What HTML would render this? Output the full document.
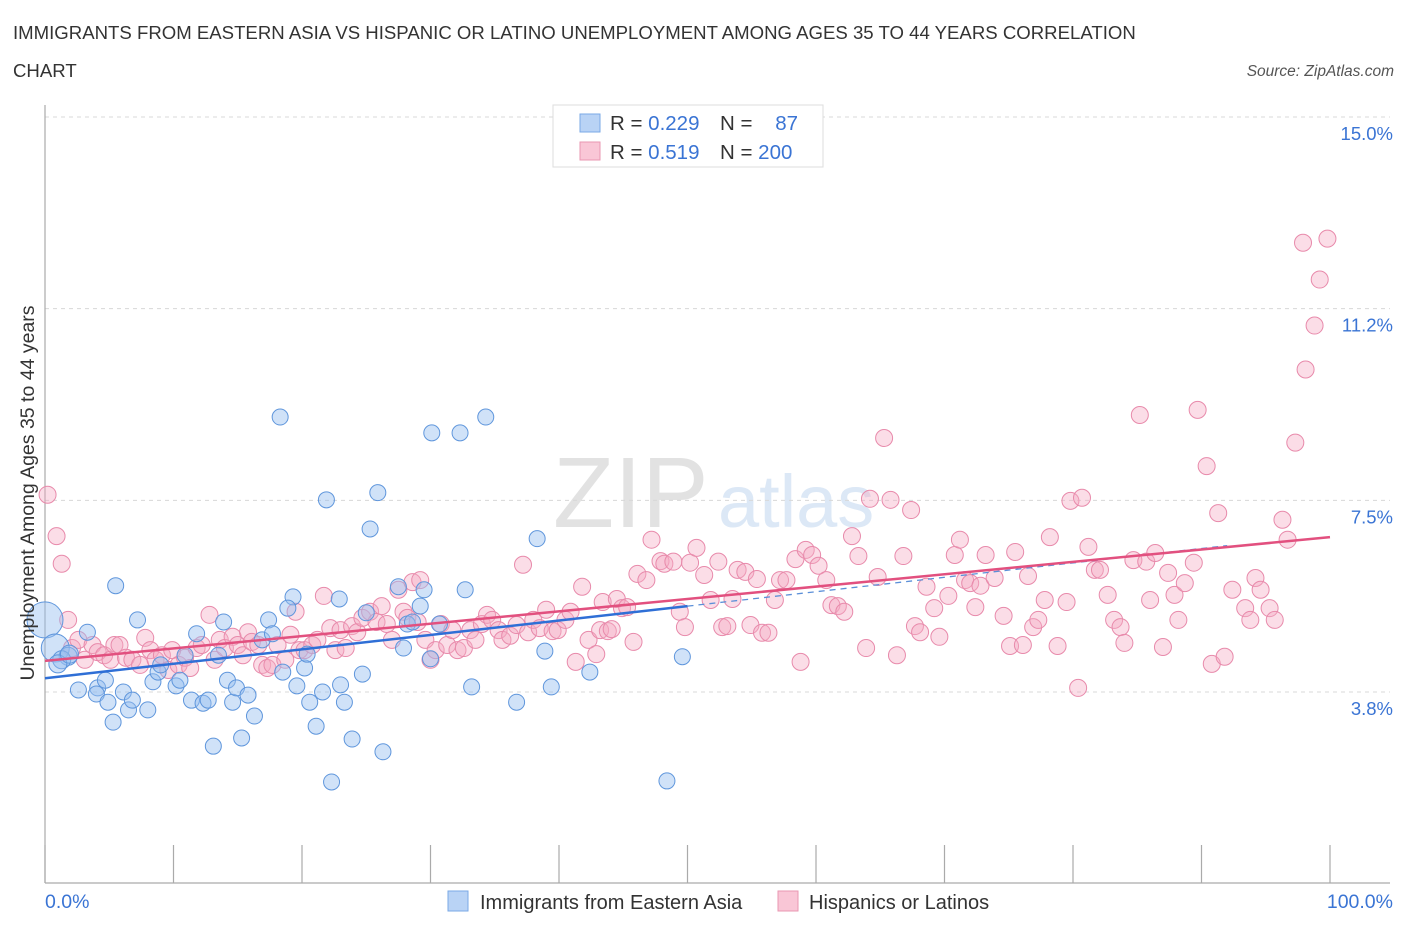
<!DOCTYPE html>
<html><head><meta charset="utf-8">
<style>
body{margin:0;background:#fff;font-family:"Liberation Sans",sans-serif;}
svg text{font-family:"Liberation Sans",sans-serif;}
</style></head>
<body>
<svg id="chart" width="1406" height="930" viewBox="0 0 1406 930" xmlns="http://www.w3.org/2000/svg">
<text x="13" y="39" font-size="18.6" fill="#333">IMMIGRANTS FROM EASTERN ASIA VS HISPANIC OR LATINO UNEMPLOYMENT AMONG AGES 35 TO 44 YEARS CORRELATION</text>
<text x="13" y="77" font-size="18.6" fill="#333">CHART</text>
<text x="1394" y="76" font-size="15.5" fill="#555" font-style="italic" text-anchor="end">Source: ZipAtlas.com</text>
<g>
<text x="553" y="527" font-size="100" fill="#e2e2e2" font-family="Liberation Serif, serif">ZIP</text>
<text x="718" y="527" font-size="74" fill="#dce8f6">atlas</text>
</g>
<g id="grid"></g>
<g id="axes"></g>
<g id="pts"></g>
<g id="trend"></g>
<text transform="translate(34,493) rotate(-90)" font-size="19.5" fill="#333" text-anchor="middle">Unemployment Among Ages 35 to 44 years</text>
<g>
<rect x="553" y="105" width="270" height="62" fill="#fff" stroke="#ddd"/>
<rect x="580" y="114" width="20" height="18" fill="#b9d3f5" stroke="#7aa8e6"/>
<rect x="580" y="142" width="20" height="18" fill="#f9c6d6" stroke="#e997b2"/>
<text x="610" y="130" font-size="20.5" fill="#333">R = <tspan fill="#3a74d4">0.229</tspan></text>
<text x="720" y="130" font-size="20.5" fill="#333">N =</text>
<text x="798" y="130" font-size="20.5" fill="#3a74d4" text-anchor="end">87</text>
<text x="610" y="159" font-size="20.5" fill="#333">R = <tspan fill="#3a74d4"> 0.519</tspan></text>
<text x="720" y="159" font-size="20.5" fill="#333">N = <tspan fill="#3a74d4">200</tspan></text>
</g>
<g>
<rect x="448" y="891" width="20" height="20" fill="#b9d3f5" stroke="#7aa8e6"/>
<text x="480" y="909" font-size="20" fill="#333">Immigrants from Eastern Asia</text>
<rect x="778" y="891" width="20" height="20" fill="#f9c6d6" stroke="#e997b2"/>
<text x="809" y="909" font-size="20" fill="#333">Hispanics or Latinos</text>
</g>
</svg>
<script>
const yTicks=[3.75,7.5,11.25,15];
const yTickLabels=["3.8%","7.5%","11.2%","15.0%"];
const xTickCount=10;
const xLabels=["0.0%","100.0%"];
const blueX=[0,0.8,1.8,1.3,1.0,1.9,3.3,2.6,4.1,4.7,5.5,4.0,4.9,5.3,6.1,6.5,6.8,7.2,8.0,8.4,8.8,9.0,10.2,10.5,10.9,11.4,11.8,12.3,12.7,13.1,13.5,13.9,14.2,14.6,14.9,15.3,15.8,16.3,16.9,17.4,17.7,18.3,18.5,19.3,18.9,19.6,20.2,20.4,20.6,21.1,21.6,21.9,22.3,22.9,23.0,23.3,23.9,24.7,25.0,25.3,25.9,26.3,27.5,27.9,28.2,28.6,29.2,29.5,30.0,30.1,30.7,32.3,32.7,33.2,34.3,36.7,38.3,38.9,39.4,42.4,48.4,49.6];
const blueY=[5.16,4.61,4.45,4.38,4.30,4.49,4.92,3.79,3.83,3.98,5.83,3.71,3.55,3.16,3.75,3.40,3.59,5.16,3.40,3.95,4.14,4.28,3.87,3.98,4.47,3.59,4.89,3.53,3.59,2.69,4.47,5.12,3.98,3.55,3.83,2.85,3.69,3.28,4.77,5.16,4.89,9.13,4.14,5.61,5.39,3.87,4.22,4.49,3.55,3.08,3.75,7.51,1.99,5.57,3.89,3.55,2.83,4.10,5.30,6.94,7.65,2.58,5.81,4.61,5.08,5.12,5.43,5.75,4.40,8.82,5.08,8.82,5.75,3.85,9.13,3.55,6.75,4.55,3.85,4.14,2.01,4.44];
const blueSize=[18,14,9,9,9,9,8,8,8,8,8,8,8,8,8,8,8,8,8,8,8,8,8,8,8,8,8,8,8,8,8,8,8,8,8,8,8,8,8,8,8,8,8,8,8,8,8,8,8,8,8,8,8,8,8,8,8,8,8,8,8,8,8,8,8,8,8,8,8,8,8,8,8,8,8,8,8,8,8,8,8,8];
const pinkX=[0.2,0.9,1.3,1.8,2.1,2.6,3.1,3.7,4.1,4.6,5.1,5.4,5.8,6.3,6.8,7.4,7.8,8.2,8.6,9.1,9.6,9.9,10.4,10.9,11.3,11.8,12.2,12.8,13.2,13.6,14.0,14.6,15.0,15.4,15.8,16.1,16.6,16.9,17.3,17.7,18.1,18.7,19.1,19.5,19.8,20.2,20.8,21.2,21.7,22.2,22.6,23.0,23.4,23.9,24.3,24.7,25.3,25.8,26.2,26.6,27.0,27.5,27.9,28.2,28.6,29.0,29.2,29.6,30.0,30.4,30.8,31.3,31.7,32.1,32.6,33.1,33.5,34.0,34.4,34.8,35.3,35.6,36.2,36.7,37.2,37.6,38.0,38.5,39.0,39.5,39.9,40.5,40.9,41.3,41.8,42.3,42.9,43.2,43.4,43.8,44.1,44.5,44.9,45.3,45.8,46.1,46.8,47.2,47.9,48.2,48.9,49.4,49.8,50.2,50.7,51.3,51.8,52.4,52.7,53.1,53.5,53.9,54.5,54.9,55.4,55.8,56.3,56.8,57.2,57.7,58.4,58.8,59.2,59.7,60.2,60.8,61.2,61.7,62.2,62.8,63.3,63.9,64.2,64.8,65.3,65.8,66.3,66.8,67.4,67.7,68.1,68.6,69.2,69.6,70.3,70.8,71.2,71.6,72.0,72.4,72.8,73.2,73.9,74.6,75.1,75.5,76.1,76.5,76.9,77.3,77.8,78.2,78.8,79.5,79.8,80.4,80.7,81.2,81.7,82.1,82.7,83.2,83.7,84.0,84.7,85.2,85.7,86.0,86.4,87.0,87.4,87.9,88.2,88.7,89.4,89.7,90.4,90.8,91.3,91.8,92.4,93.4,93.8,94.2,94.6,95.3,95.7,96.3,96.7,97.3,98.1,97.9,98.8,99.2,99.8];
const pinkY=[7.61,6.80,6.26,5.16,4.61,4.77,4.38,4.67,4.53,4.47,4.38,4.67,4.67,4.42,4.38,4.28,4.81,4.57,4.38,4.47,4.18,4.57,4.28,4.42,4.22,4.61,4.67,5.26,4.38,4.77,4.61,4.83,4.67,4.47,4.92,4.73,4.67,4.28,4.22,4.28,4.67,4.38,4.87,5.32,4.57,4.57,4.67,4.77,5.63,5.00,4.57,4.96,4.61,5.04,4.92,5.20,5.32,5.12,5.43,5.08,4.77,5.75,5.32,5.20,5.90,5.12,5.94,4.77,4.38,4.57,5.08,4.67,4.96,4.57,4.61,4.96,4.77,5.08,5.26,5.16,4.96,4.77,4.85,5.06,6.24,4.92,5.16,5.00,5.36,4.94,4.96,5.16,5.32,4.34,5.81,4.77,4.49,4.96,5.51,4.94,4.98,5.57,5.39,5.41,4.73,6.06,5.94,6.73,6.31,6.26,6.30,5.32,5.02,6.28,6.57,6.04,5.55,6.30,5.02,5.04,5.57,6.14,6.10,5.06,5.96,4.91,4.91,5.55,5.94,5.94,6.35,4.34,6.53,6.43,6.22,5.94,5.45,5.43,5.32,6.80,6.41,4.61,7.53,6.00,8.72,7.51,4.47,6.41,7.31,5.04,4.92,5.81,5.39,4.83,5.63,6.43,6.73,5.94,5.88,5.41,5.83,6.43,5.98,5.24,4.65,6.49,4.67,6.02,5.02,5.16,5.55,6.78,4.65,5.51,7.49,3.83,7.55,6.59,6.14,6.14,5.65,5.16,5.02,4.71,6.33,9.17,6.30,5.55,6.47,4.63,6.08,5.65,5.16,5.88,6.28,9.27,8.17,4.30,7.25,4.44,5.75,5.39,5.16,5.98,5.75,5.39,5.16,7.12,6.73,8.63,10.06,12.54,10.92,11.82,12.62];
const blueTrend=[4.02,5.43]; // value at 0% and at 50%
const pinkTrend=[4.36,6.78]; // value at 0% and at 100%

const NS="http://www.w3.org/2000/svg";
const X0=45,X1=1330,YB=692,YT=117;
function sx(p){return X0+(X1-X0)*p/100;}
function sy(v){return YB-(v-3.75)*(YB-YT)/(15-3.75);}
function mk(tag,attrs,parent){const e=document.createElementNS(NS,tag);for(const k in attrs)e.setAttribute(k,attrs[k]);parent.appendChild(e);return e;}

const grid=document.getElementById('grid');
yTicks.forEach((t,i)=>{
  const l=mk('line',{x1:X0,x2:1390,y1:sy(t),y2:sy(t),stroke:'#d8d8d8','stroke-dasharray':'4,4'},grid);
  
  
  const tx=mk('text',{x:1393,y:sy(t)+23,'font-size':18.5,fill:'#3a74d4','text-anchor':'end'},grid);
  tx.textContent=yTickLabels[i];
  
  
});
const axes=document.getElementById('axes');
mk('line',{x1:X0,x2:X0,y1:105,y2:883,stroke:'#aaa','stroke-width':1.2},axes);
mk('line',{x1:X0,x2:1390,y1:883,y2:883,stroke:'#aaa','stroke-width':1.2},axes);
for(let i=0;i<=xTickCount;i++){
  const t=mk('line',{x1:sx(i*10),x2:sx(i*10),y1:845,y2:883,stroke:'#aaa','stroke-width':1.2},axes);
  
  
}
const xl0=mk('text',{x:45,y:908,'font-size':19.5,fill:'#3a74d4'},axes);xl0.textContent=xLabels[0];


const xl1=mk('text',{x:1393,y:908,'font-size':19.5,fill:'#3a74d4','text-anchor':'end'},axes);xl1.textContent=xLabels[1];



const pts=document.getElementById('pts');
pinkX.forEach((x,i)=>{
  const c=mk('circle',{cx:sx(x),cy:sy(pinkY[i]),r:8.5,fill:'rgba(246,170,196,0.4)',stroke:'#e88aab','stroke-width':1},pts);
  
  
});
blueX.forEach((x,i)=>{
  const c=mk('circle',{cx:sx(x),cy:sy(blueY[i]),r:blueSize[i],fill:'rgba(150,190,240,0.45)',stroke:'#5f96dc','stroke-width':1},pts);
  
  
});

const tr=document.getElementById('trend');
const bSlope=(blueTrend[1]-blueTrend[0])/50;
const d=mk('line',{x1:sx(50),y1:sy(blueTrend[1]),x2:sx(92),y2:sy(blueTrend[0]+bSlope*92),stroke:'#5b8fd8','stroke-width':1.3,'stroke-dasharray':'6,5'},tr);


const pl=mk('line',{x1:sx(0),y1:sy(pinkTrend[0]),x2:sx(100),y2:sy(pinkTrend[1]),stroke:'#e2507f','stroke-width':2.5},tr);


const bl=mk('line',{x1:sx(0),y1:sy(blueTrend[0]),x2:sx(50),y2:sy(blueTrend[1]),stroke:'#2f6fd6','stroke-width':2.5},tr);


</script>
</body></html>
